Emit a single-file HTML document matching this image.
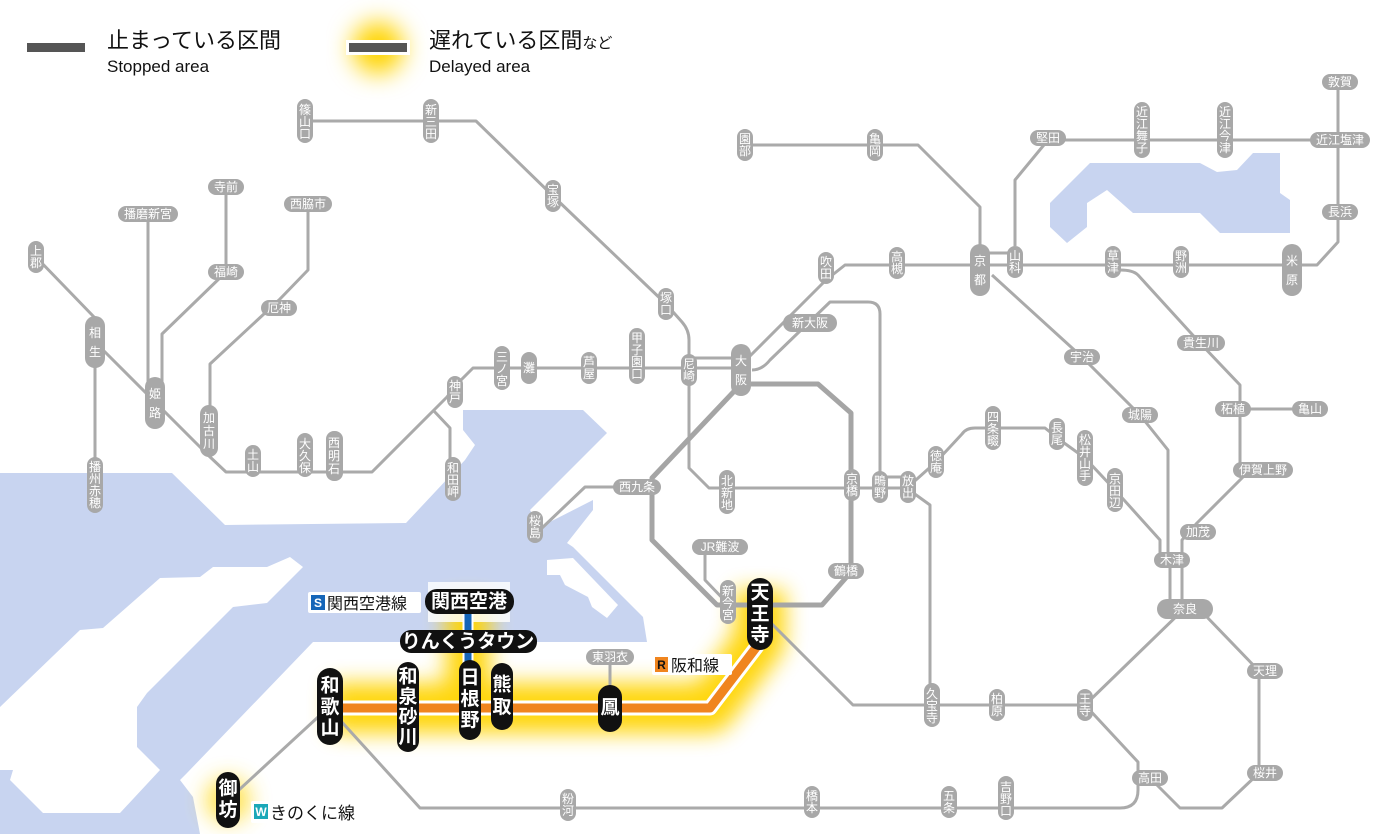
<!DOCTYPE html>
<html><head><meta charset="utf-8"><style>
html,body{margin:0;padding:0;background:#fff;}
svg{display:block;}
text{font-family:"Liberation Sans","Noto Sans CJK JP",sans-serif;}
.g text,text.g{fill:#fff;font-size:12px;}
.gl{fill:none;stroke:#aaa;stroke-width:3;stroke-linejoin:round;}
.p{fill:#a8a8a8;}
.b{fill:#111;}
.bt{fill:#fff;font-size:19px;font-weight:bold;}
</style></head><body>
<svg width="1400" height="834" viewBox="0 0 1400 834" xmlns="http://www.w3.org/2000/svg">
<defs>
<filter id="blur" x="-30%" y="-30%" width="160%" height="160%"><feGaussianBlur stdDeviation="11"/></filter>
<filter id="blur2" x="-50%" y="-50%" width="200%" height="200%"><feGaussianBlur stdDeviation="12"/></filter>
</defs>
<!-- sea -->
<polygon fill="#c8d4f0" points="0,473 172,473 225,525 406,523 465,460 475,445 463,430 463,410 583,410 607,433 530,510 540,527 593,500 593,510 567,543 573,547 643,617 647,642 313,642 187,773 180,780 193,797 200,834 0,834"/>
<polygon fill="#fff" points="0,707 80,630 103,628 160,578 200,577 213,567 267,567 290,557 303,567 267,603 233,607 147,693 137,707 137,747 160,770 120,813 43,813 10,780 13,770 0,770"/>
<polygon fill="#fff" points="547,560 573,558 618,605 607,618 592,607 588,597 565,585 560,575 547,575"/>
<polygon fill="#c8d4f0" points="1050,210 1050,227 1067,243 1087,227 1087,203 1107,190 1133,213 1200,213 1220,233 1290,233 1290,200 1280,193 1280,153 1253,153 1237,170 1217,172 1200,163 1090,163 1050,203"/>

<!-- legend -->
<rect x="27" y="43" width="58" height="9" fill="#555"/>
<text x="107" y="48" font-size="22" fill="#111">止まっている区間</text>
<text x="107" y="72" font-size="17" fill="#111">Stopped area</text>
<circle cx="378" cy="48" r="26" fill="#ffd400" filter="url(#blur2)"/>
<rect x="346" y="40" width="64" height="15" fill="#fff"/>
<rect x="349" y="43" width="58" height="9" fill="#555"/>
<text x="429" y="48" font-size="22" fill="#111">遅れている区間<tspan font-size="15">など</tspan></text>
<text x="429" y="72" font-size="17" fill="#111">Delayed area</text>

<!-- glow -->
<g filter="url(#blur)" opacity="0.95">
<polyline points="330,708 710,708 760,640 760,590" fill="none" stroke="#ffd400" stroke-width="50" stroke-linejoin="round"/>
<line x1="468" y1="600" x2="468" y2="700" stroke="#ffd400" stroke-width="44"/>
<circle cx="228" cy="800" r="22" fill="#ffe040"/>
</g>
<rect x="428" y="582" width="82" height="40" fill="#fff" opacity="0.8"/>

<!-- gray lines -->
<g class="gl">
<path d="M305,121 H476 L553,196 L666,304 L682,322 Q689,330 689,340 V468 L709,488 H908"/>
<path d="M36,257 L95,318"/>
<path d="M95,342 L209,456 L226,472 H372 L447,397 L460,381 L473,368 H741"/>
<path d="M95,342 V485"/>
<path d="M148,214 V403"/>
<path d="M226,187 V272 L162,334 V403"/>
<path d="M308,204 V270 L279,300 L210,364 V431"/>
<path d="M433,410 L450,428 V479"/>
<path d="M689,358 H741"/>
<path d="M748,358 L826,280 L845,265 H1317 L1338,242 V82"/>
<path d="M752,370 Q762,370 770,360 L830,302 H868 Q880,302 880,314 V487"/>
<path d="M637,487 H585 L542,528"/>
<path d="M705,547 V580 L728,604"/>
<path d="M770,622 L853,705 H1085 L1185,608"/>
<path d="M1085,705 L1138,762 V790 Q1138,808 1120,808 H420 L340,720"/>
<path d="M1150,778 L1180,808 H1222 L1259,773 V671 L1205,615"/>
<path d="M1170,560 V605 M1182,560 V605"/>
<path d="M1182,560 V540 L1197,523 L1250,470"/>
<path d="M1240,470 V409 H1310"/>
<path d="M1240,409 V385 L1200,343 L1138,275 Q1133,270 1120,270"/>
<path d="M992,275 L1082,357 L1140,415 L1168,450 V560"/>
<path d="M908,487 L936,462 L962,434 Q966,428 975,428 H1045 L1060,440 L1085,458 L1115,490 L1160,540 V560"/>
<path d="M912,492 L930,505 V705"/>
<path d="M880,477 H908"/>
<path d="M980,248 V207 L918,145 H745"/>
<path d="M1015,246 V180 L1048,140 H1340"/>
<path d="M980,253 H1015"/>
<path d="M610,657 V690"/>
<path d="M228,800 L330,706"/>
</g>
<g fill="none" stroke="#a5a5a5" stroke-width="5" stroke-linejoin="round">
<path d="M741,384 H818 L851,413 V572 L822,605 H760"/>
<path d="M741,384 L652,478 V540 L717,605 H760"/>
</g>

<!-- orange & blue -->
<polyline points="330,708 710,708 758,645" fill="none" stroke="#fff" stroke-width="15" stroke-linejoin="round"/>
<polyline points="330,708 710,708 758,645" fill="none" stroke="#f0851e" stroke-width="9" stroke-linejoin="round"/>
<line x1="468" y1="601" x2="468" y2="690" stroke="#fff" stroke-width="11"/>
<line x1="468" y1="601" x2="468" y2="690" stroke="#1565b8" stroke-width="7"/>

<!-- gray vertical small stations -->
<g class="g" text-anchor="middle" dominant-baseline="central">
<rect class="p" x="297" y="99" width="16" height="44" rx="8"/><text x="305" y="110">篠<tspan x="305" dy="12">山</tspan><tspan x="305" dy="12">口</tspan></text>
<rect class="p" x="423" y="99" width="16" height="44" rx="8"/><text x="431" y="110">新<tspan x="431" dy="12">三</tspan><tspan x="431" dy="12">田</tspan></text>
<rect class="p" x="545" y="180" width="16" height="32" rx="8"/><text x="553" y="190">宝<tspan x="553" dy="12">塚</tspan></text>
<rect class="p" x="28" y="241" width="16" height="32" rx="8"/><text x="36" y="251">上<tspan x="36" dy="12">郡</tspan></text>
<rect class="p" x="245" y="445" width="16" height="32" rx="8"/><text x="253" y="455">土<tspan x="253" dy="12">山</tspan></text>
<rect class="p" x="297" y="433" width="16" height="44" rx="8"/><text x="305" y="444">大<tspan x="305" dy="12">久</tspan><tspan x="305" dy="12">保</tspan></text>
<rect class="p" x="326" y="431" width="17" height="50" rx="8"/><text x="334" y="443">西<tspan x="334" dy="13">明</tspan><tspan x="334" dy="13">石</tspan></text>
<rect class="p" x="200" y="405" width="18" height="52" rx="9"/><text x="209" y="418">加<tspan x="209" dy="13">古</tspan><tspan x="209" dy="13">川</tspan></text>
<rect class="p" x="447" y="376" width="16" height="32" rx="8"/><text x="455" y="386">神<tspan x="455" dy="12">戸</tspan></text>
<rect class="p" x="445" y="457" width="16" height="44" rx="8"/><text x="453" y="468">和<tspan x="453" dy="12">田</tspan><tspan x="453" dy="12">岬</tspan></text>
<rect class="p" x="87" y="457" width="16" height="56" rx="8"/><text x="95" y="467">播<tspan x="95" dy="12">州</tspan><tspan x="95" dy="12">赤</tspan><tspan x="95" dy="12">穂</tspan></text>
<rect class="p" x="494" y="346" width="16" height="44" rx="8"/><text x="502" y="357">三<tspan x="502" dy="12">ノ</tspan><tspan x="502" dy="12">宮</tspan></text>
<rect class="p" x="521" y="352" width="16" height="32" rx="8"/><text x="529" y="368">灘</text>
<rect class="p" x="581" y="352" width="16" height="32" rx="8"/><text x="589" y="362">芦<tspan x="589" dy="12">屋</tspan></text>
<rect class="p" x="629" y="328" width="16" height="56" rx="8"/><text x="637" y="338">甲<tspan x="637" dy="12">子</tspan><tspan x="637" dy="12">園</tspan><tspan x="637" dy="12">口</tspan></text>
<rect class="p" x="658" y="288" width="16" height="32" rx="8"/><text x="666" y="298">塚<tspan x="666" dy="12">口</tspan></text>
<rect class="p" x="681" y="354" width="16" height="32" rx="8"/><text x="689" y="364">尼<tspan x="689" dy="12">崎</tspan></text>
<rect class="p" x="719" y="470" width="16" height="44" rx="8"/><text x="727" y="481">北<tspan x="727" dy="12">新</tspan><tspan x="727" dy="12">地</tspan></text>
<rect class="p" x="527" y="511" width="16" height="32" rx="8"/><text x="535" y="521">桜<tspan x="535" dy="12">島</tspan></text>
<rect class="p" x="818" y="252" width="16" height="32" rx="8"/><text x="826" y="262">吹<tspan x="826" dy="12">田</tspan></text>
<rect class="p" x="889" y="247" width="16" height="32" rx="8"/><text x="897" y="257">高<tspan x="897" dy="12">槻</tspan></text>
<rect class="p" x="844" y="469" width="16" height="32" rx="8"/><text x="852" y="479">京<tspan x="852" dy="12">橋</tspan></text>
<rect class="p" x="872" y="471" width="16" height="32" rx="8"/><text x="880" y="481">鴫<tspan x="880" dy="12">野</tspan></text>
<rect class="p" x="900" y="471" width="16" height="32" rx="8"/><text x="908" y="481">放<tspan x="908" dy="12">出</tspan></text>
<rect class="p" x="928" y="446" width="16" height="32" rx="8"/><text x="936" y="456">徳<tspan x="936" dy="12">庵</tspan></text>
<rect class="p" x="985" y="406" width="16" height="44" rx="8"/><text x="993" y="417">四<tspan x="993" dy="12">条</tspan><tspan x="993" dy="12">畷</tspan></text>
<rect class="p" x="1049" y="418" width="16" height="32" rx="8"/><text x="1057" y="428">長<tspan x="1057" dy="12">尾</tspan></text>
<rect class="p" x="1077" y="430" width="16" height="56" rx="8"/><text x="1085" y="440">松<tspan x="1085" dy="12">井</tspan><tspan x="1085" dy="12">山</tspan><tspan x="1085" dy="12">手</tspan></text>
<rect class="p" x="1107" y="468" width="16" height="44" rx="8"/><text x="1115" y="479">京<tspan x="1115" dy="12">田</tspan><tspan x="1115" dy="12">辺</tspan></text>
<rect class="p" x="720" y="580" width="16" height="44" rx="8"/><text x="728" y="591">新<tspan x="728" dy="12">今</tspan><tspan x="728" dy="12">宮</tspan></text>
<rect class="p" x="737" y="129" width="16" height="32" rx="8"/><text x="745" y="139">園<tspan x="745" dy="12">部</tspan></text>
<rect class="p" x="867" y="129" width="16" height="32" rx="8"/><text x="875" y="139">亀<tspan x="875" dy="12">岡</tspan></text>
<rect class="p" x="1007" y="246" width="16" height="32" rx="8"/><text x="1015" y="256">山<tspan x="1015" dy="12">科</tspan></text>
<rect class="p" x="1105" y="246" width="16" height="32" rx="8"/><text x="1113" y="256">草<tspan x="1113" dy="12">津</tspan></text>
<rect class="p" x="1173" y="246" width="16" height="32" rx="8"/><text x="1181" y="256">野<tspan x="1181" dy="12">洲</tspan></text>
<rect class="p" x="1134" y="102" width="16" height="56" rx="8"/><text x="1142" y="112">近<tspan x="1142" dy="12">江</tspan><tspan x="1142" dy="12">舞</tspan><tspan x="1142" dy="12">子</tspan></text>
<rect class="p" x="1217" y="102" width="16" height="56" rx="8"/><text x="1225" y="112">近<tspan x="1225" dy="12">江</tspan><tspan x="1225" dy="12">今</tspan><tspan x="1225" dy="12">津</tspan></text>
<rect class="p" x="924" y="683" width="16" height="44" rx="8"/><text x="932" y="694">久<tspan x="932" dy="12">宝</tspan><tspan x="932" dy="12">寺</tspan></text>
<rect class="p" x="989" y="689" width="16" height="32" rx="8"/><text x="997" y="699">柏<tspan x="997" dy="12">原</tspan></text>
<rect class="p" x="1077" y="689" width="16" height="32" rx="8"/><text x="1085" y="699">王<tspan x="1085" dy="12">寺</tspan></text>
<rect class="p" x="560" y="789" width="16" height="32" rx="8"/><text x="568" y="799">粉<tspan x="568" dy="12">河</tspan></text>
<rect class="p" x="804" y="786" width="16" height="32" rx="8"/><text x="812" y="796">橋<tspan x="812" dy="12">本</tspan></text>
<rect class="p" x="941" y="786" width="16" height="32" rx="8"/><text x="949" y="796">五<tspan x="949" dy="12">条</tspan></text>
<rect class="p" x="998" y="776" width="16" height="44" rx="8"/><text x="1006" y="787">吉<tspan x="1006" dy="12">野</tspan><tspan x="1006" dy="12">口</tspan></text>

<!-- horizontal small -->
<rect class="p" x="118" y="206" width="60" height="16" rx="8"/><text x="148" y="214">播磨新宮</text>
<rect class="p" x="208" y="179" width="36" height="16" rx="8"/><text x="226" y="187">寺前</text>
<rect class="p" x="208" y="264" width="36" height="16" rx="8"/><text x="226" y="272">福崎</text>
<rect class="p" x="284" y="196" width="48" height="16" rx="8"/><text x="308" y="204">西脇市</text>
<rect class="p" x="261" y="300" width="36" height="16" rx="8"/><text x="279" y="308">厄神</text>
<rect class="p" x="783" y="314" width="54" height="18" rx="9"/><text x="810" y="323" font-size="13">新大阪</text>
<rect class="p" x="613" y="479" width="48" height="16" rx="8"/><text x="637" y="487">西九条</text>
<rect class="p" x="692" y="539" width="56" height="16" rx="8"/><text x="720" y="547">JR難波</text>
<rect class="p" x="828" y="563" width="36" height="16" rx="8"/><text x="846" y="571">鶴橋</text>
<rect class="p" x="586" y="649" width="48" height="16" rx="8"/><text x="610" y="657">東羽衣</text>
<rect class="p" x="1030" y="130" width="36" height="16" rx="8"/><text x="1048" y="138">堅田</text>
<rect class="p" x="1310" y="132" width="60" height="16" rx="8"/><text x="1340" y="140">近江塩津</text>
<rect class="p" x="1322" y="74" width="36" height="16" rx="8"/><text x="1340" y="82">敦賀</text>
<rect class="p" x="1322" y="204" width="36" height="16" rx="8"/><text x="1340" y="212">長浜</text>
<rect class="p" x="1064" y="349" width="36" height="16" rx="8"/><text x="1082" y="357">宇治</text>
<rect class="p" x="1177" y="335" width="48" height="16" rx="8"/><text x="1201" y="343">貴生川</text>
<rect class="p" x="1122" y="407" width="36" height="16" rx="8"/><text x="1140" y="415">城陽</text>
<rect class="p" x="1215" y="401" width="36" height="16" rx="8"/><text x="1233" y="409">柘植</text>
<rect class="p" x="1292" y="401" width="36" height="16" rx="8"/><text x="1310" y="409">亀山</text>
<rect class="p" x="1233" y="462" width="60" height="16" rx="8"/><text x="1263" y="470">伊賀上野</text>
<rect class="p" x="1180" y="524" width="36" height="16" rx="8"/><text x="1198" y="532">加茂</text>
<rect class="p" x="1154" y="552" width="36" height="16" rx="8"/><text x="1172" y="560">木津</text>
<rect class="p" x="1157" y="599" width="56" height="20" rx="10"/><text x="1185" y="609" font-size="16">奈良</text>
<rect class="p" x="1247" y="663" width="36" height="16" rx="8"/><text x="1265" y="671">天理</text>
<rect class="p" x="1132" y="770" width="36" height="16" rx="8"/><text x="1150" y="778">高田</text>
<rect class="p" x="1247" y="765" width="36" height="16" rx="8"/><text x="1265" y="773">桜井</text>

<!-- big gray -->
<g font-size="17">
<rect class="p" x="85" y="316" width="20" height="52" rx="10"/><text x="95" y="333" font-size="17">相<tspan x="95" dy="19">生</tspan></text>
<rect class="p" x="145" y="377" width="20" height="52" rx="10"/><text x="155" y="394" font-size="17">姫<tspan x="155" dy="19">路</tspan></text>
<rect class="p" x="731" y="344" width="20" height="52" rx="10"/><text x="741" y="361" font-size="17">大<tspan x="741" dy="19">阪</tspan></text>
<rect class="p" x="970" y="244" width="20" height="52" rx="10"/><text x="980" y="261" font-size="17">京<tspan x="980" dy="19">都</tspan></text>
<rect class="p" x="1282" y="244" width="20" height="52" rx="10"/><text x="1292" y="261" font-size="17">米<tspan x="1292" dy="19">原</tspan></text>
</g>
</g>

<!-- black stations -->
<g text-anchor="middle" dominant-baseline="central">
<rect class="b" x="747" y="578" width="26" height="72" rx="13"/><text class="bt" x="760" y="593">天<tspan x="760" dy="21">王</tspan><tspan x="760" dy="21">寺</tspan></text>
<rect class="b" x="598" y="685" width="24" height="47" rx="12"/><text class="bt" x="610" y="708" font-size="18">鳳</text>
<rect class="b" x="491" y="663" width="22" height="67" rx="11"/><text class="bt" x="502" y="685" font-size="17">熊<tspan x="502" dy="22">取</tspan></text>
<rect class="b" x="459" y="660" width="22" height="80" rx="11"/><text class="bt" x="470" y="678" font-size="17">日<tspan x="470" dy="21">根</tspan><tspan x="470" dy="21">野</tspan></text>
<rect class="b" x="397" y="662" width="22" height="90" rx="11"/><text class="bt" x="408" y="677" font-size="17">和<tspan x="408" dy="20">泉</tspan><tspan x="408" dy="20">砂</tspan><tspan x="408" dy="20">川</tspan></text>
<rect class="b" x="317" y="668" width="26" height="77" rx="13"/><text class="bt" x="330" y="686" font-size="20">和<tspan x="330" dy="21">歌</tspan><tspan x="330" dy="21">山</tspan></text>
<rect class="b" x="216" y="772" width="24" height="56" rx="12"/><text class="bt" x="228" y="789" font-size="18">御<tspan x="228" dy="21">坊</tspan></text>
<rect class="b" x="425" y="589" width="89" height="25" rx="12"/><text class="bt" x="469" y="602" font-size="18">関西空港</text>
<rect class="b" x="400" y="630" width="137" height="23" rx="11"/><text class="bt" x="468" y="642" font-size="18">りんくうタウン</text>
</g>

<!-- line labels -->
<rect x="308" y="592" width="113" height="21" fill="#fff" rx="2"/>
<rect x="311" y="595" width="14" height="15" fill="#1565b8"/>
<text x="318" y="607" font-size="12" fill="#fff" text-anchor="middle" font-weight="bold">S</text>
<text x="327" y="609" font-size="16" fill="#111">関西空港線</text>
<rect x="652" y="654" width="80" height="21" fill="#fff" rx="2"/>
<rect x="655" y="657" width="13" height="15" fill="#f0851e"/>
<text x="661.5" y="669" font-size="12" fill="#111" text-anchor="middle" font-weight="bold">R</text>
<text x="671" y="671" font-size="16" fill="#111">阪和線</text>
<rect x="251" y="801" width="108" height="22" fill="#fff" rx="2"/>
<rect x="254" y="804" width="14" height="15" fill="#1aa8b8"/>
<text x="261" y="816" font-size="12" fill="#fff" text-anchor="middle" font-weight="bold">W</text>
<text x="270" y="819" font-size="17" fill="#111">きのくに線</text>
</svg>
</body></html>
